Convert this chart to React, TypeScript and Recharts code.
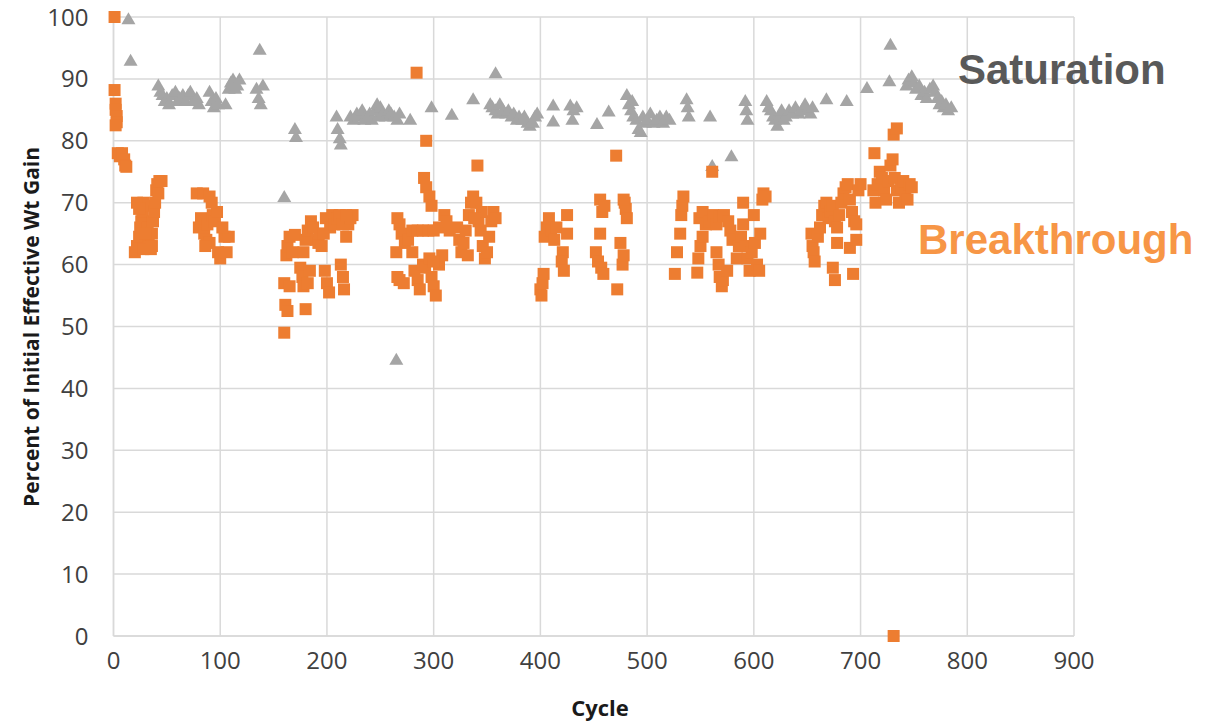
import React from "react";
import {
  ScatterChart,
  Scatter,
  XAxis,
  YAxis,
  CartesianGrid,
} from "recharts";

// [cycle, percent of initial effective wt gain]
const saturationPoints: [number, number][] = [
  [14, 99.7], [16, 93],
  [42, 89], [44, 88], [46, 87.5], [48, 86.5], [50, 87], [52, 86], [55, 87.5], [58, 88],
  [60, 86.5], [62, 87], [65, 87.5], [68, 86.5], [70, 87.5], [72, 88], [75, 86.5], [78, 87], [80, 86],
  [90, 88], [92, 86.5], [94, 85.5], [96, 87], [98, 86],
  [105, 86], [108, 88.5], [110, 89.5], [112, 90], [114, 88.5], [116, 89], [118, 90],
  [134, 88.5], [136, 87], [138, 86], [140, 89], [137, 94.8],
  [160, 71], [170, 82], [171, 80.7],
  [209, 84], [210, 82], [212, 80.5], [213, 79.5],
  [222, 84], [225, 83.5], [228, 84.5], [230, 84], [233, 85], [235, 83.5], [236, 84], [240, 84.5],
  [242, 83.5], [245, 85], [247, 86], [248, 84], [250, 85.5], [252, 84.5], [255, 84], [258, 85],
  [260, 84.5], [263, 84], [266, 83.5], [268, 84.5],
  [265, 44.7], [278, 83.5], [298, 85.5], [317, 84.3], [337, 86.8], [358, 91],
  [353, 86], [355, 85.5], [358, 85], [360, 84.5], [362, 86], [365, 85], [368, 84.5], [370, 85],
  [373, 84], [375, 84.5], [378, 83.5], [380, 84], [383, 83.5], [385, 84], [388, 83], [390, 82.5],
  [393, 83], [395, 84], [397, 84.5],
  [412, 85.8], [412, 83.2], [428, 85.8], [431, 85], [434, 85.5], [430, 83.5], [453, 82.8], [464, 84.8],
  [481, 87.5], [483, 86], [486, 86.5], [485, 85], [487, 84], [490, 83.5], [492, 82], [494, 81.5],
  [496, 84], [498, 83], [500, 83.5], [503, 84.5], [506, 83], [509, 83.5], [512, 84], [515, 83],
  [518, 84], [521, 83.5],
  [537, 86.8], [538, 85.5], [539, 84], [559, 84], [561, 76], [579, 77.6],
  [592, 86.5], [593, 85], [594, 83.5],
  [612, 86.5], [614, 85.5], [616, 85], [618, 84], [620, 83.5], [622, 82.5], [624, 84], [626, 85],
  [628, 83.5], [630, 84], [633, 85], [636, 84.5], [639, 85.5], [642, 84.5], [645, 85], [648, 86],
  [650, 85], [653, 84.5], [655, 85.5],
  [668, 86.8], [687, 86.5], [706, 88.6], [727, 89.7], [728, 95.6],
  [743, 89], [745, 90], [748, 90.5], [750, 89.5], [752, 88.5], [755, 89], [757, 87.5], [760, 88],
  [762, 87], [765, 88.5], [768, 89], [770, 88], [772, 87], [774, 86], [776, 86.5], [778, 85.5],
  [780, 86], [782, 85], [785, 85.5],
];

const breakthroughPoints: [number, number][] = [
  [1, 100], [1, 88.2], [2, 86], [2, 85], [3, 84], [3, 83], [2, 82.5],
  [4, 78], [6, 77.5], [8, 78], [10, 77], [11, 76], [12, 75.8],
  [20, 62], [22, 63], [24, 64.5], [25, 66], [26, 67], [27, 68.5], [28, 70], [30, 69.5], [22, 70],
  [24, 69], [32, 66], [33, 64], [34, 63], [35, 62.5], [36, 65], [37, 67], [38, 68.5], [39, 70],
  [40, 72], [41, 73], [43, 73.5], [45, 73.5], [42, 71.5], [30, 65], [28, 62.5], [36, 63],
  [78, 71.5], [84, 71.5], [90, 71], [92, 70], [80, 66], [82, 67.5], [85, 65], [87, 64], [88, 66.5],
  [93, 68], [95, 67], [97, 68.5], [90, 63.5], [98, 62], [100, 61], [104, 64.5], [106, 62],
  [108, 64.5], [102, 66], [86, 63],
  [160, 49], [161, 53.5], [163, 52.5], [160, 57], [165, 56.5], [162, 61.5], [163, 63], [165, 64.5],
  [168, 62], [170, 64.8], [175, 59.5], [177, 58], [178, 56.5], [180, 52.8], [182, 57], [184, 59],
  [178, 62], [180, 64], [182, 65.5], [185, 67], [187, 66], [190, 64], [192, 63.5], [193, 65],
  [195, 63], [197, 65], [198, 59], [200, 57], [202, 55.5], [199, 67.5], [203, 66], [205, 68],
  [207, 66.5], [210, 67.5], [212, 68], [215, 66.5], [213, 60], [215, 58], [216, 56], [218, 64.5],
  [220, 66.5], [222, 67.5], [224, 68], [218, 68],
  [284, 91], [293, 80], [291, 74], [293, 72.5], [296, 71], [298, 69.5],
  [266, 67.5], [268, 66.5], [270, 65], [273, 63.5], [276, 64], [280, 65.5], [285, 65.5], [290, 65.5],
  [295, 65.5], [300, 65.5], [305, 66], [310, 68], [312, 67], [315, 65.5],
  [265, 62], [266, 58], [268, 57.5], [272, 57], [280, 62], [282, 59], [285, 57.5], [287, 56],
  [290, 60], [292, 59.5], [296, 61], [298, 58], [300, 56.5], [302, 55], [305, 60], [308, 61.5], [300, 60.5],
  [341, 76], [322, 66], [324, 64], [326, 62], [328, 63.5], [330, 65.5], [333, 68], [335, 70],
  [337, 71], [340, 70], [342, 67], [344, 65.5], [346, 63], [348, 61], [350, 62], [352, 64.5],
  [354, 67], [356, 68.5], [358, 67.5], [345, 68.5], [338, 67.5], [332, 61.5],
  [400, 56], [401, 55], [402, 57], [403, 58.5], [404, 64.5], [406, 66], [408, 67.5], [410, 65.5],
  [413, 64], [415, 66], [425, 68], [425, 65], [421, 62], [420, 60.5], [422, 59],
  [456, 70.5], [458, 68.5], [460, 69.5], [456, 65], [452, 62], [454, 60.5], [457, 59.5], [459, 58.5],
  [471, 77.6], [472, 56], [475, 63.5], [477, 60], [478, 61.5], [479, 70], [480, 69], [481, 67.5], [478, 70.5],
  [526, 58.5], [528, 62], [531, 65], [532, 68], [533, 69.5], [534, 71], [547, 58.7], [548, 61],
  [550, 63], [552, 64.5], [549, 67.5], [552, 68.5], [555, 66.5], [558, 67], [561, 75], [562, 68],
  [565, 66.5], [568, 67.8], [572, 68], [576, 67], [578, 65.5], [580, 64], [565, 62], [567, 60],
  [568, 58], [570, 56.5], [571, 57.5], [575, 59], [584, 61], [586, 63], [588, 64.5], [590, 66.5],
  [590, 70], [592, 63], [594, 61], [596, 59], [598, 62], [600, 68], [601, 63.5], [603, 60],
  [605, 59], [606, 65], [608, 70.5], [609, 71.5], [611, 71],
  [654, 65], [655, 63], [656, 62], [657, 60.5], [660, 64.5], [662, 66], [664, 68], [666, 69.5],
  [668, 70], [670, 67.5], [672, 68.5], [674, 69.5], [676, 67], [678, 66], [680, 68], [682, 70],
  [684, 71.5], [686, 72.5], [688, 73], [690, 70.5], [692, 68.5], [694, 67], [696, 66.5], [698, 72],
  [700, 73], [674, 59.5], [676, 57.5], [678, 63.5], [690, 62.7], [693, 58.5], [696, 64],
  [713, 78], [712, 72], [714, 70], [716, 73], [718, 75], [720, 74], [722, 72], [724, 70.5],
  [726, 73.5], [728, 76], [730, 77], [731, 81], [734, 82], [732, 74], [734, 72], [736, 70],
  [738, 72.5], [740, 73.5], [742, 71.5], [744, 70.5], [746, 73], [748, 72.5],
  [731, 0],
];

const xTicks = [0, 100, 200, 300, 400, 500, 600, 700, 800, 900];
const yTicks = [0, 10, 20, 30, 40, 50, 60, 70, 80, 90, 100];

const ORANGE = "#ED7D31";
const GRAY = "#A5A5A5";
const GRID = "#D9D9D9";
const TEXT = "#404040";
const FONT = "'Open Sans', sans-serif";

const toRows = (pts: [number, number][]) => pts.map(([cycle, pct]) => ({ cycle, pct }));

function SquareMark(props: any) {
  const { cx, cy } = props;
  return <rect x={cx - 6} y={cy - 6} width={12} height={12} fill={ORANGE} />;
}

function TriangleMark(props: any) {
  const { cx, cy } = props;
  return (
    <polygon
      points={`${cx},${cy - 6.5} ${cx + 7},${cy + 5.5} ${cx - 7},${cy + 5.5}`}
      fill={GRAY}
    />
  );
}

export default function App() {
  return (
    <div
      style={{
        position: "absolute",
        left: 0,
        top: 0,
        width: 1218,
        height: 723,
        background: "#fff",
        fontFamily: FONT,
      }}
    >
      <ScatterChart
        width={1218}
        height={723}
        margin={{ top: 17, right: 144, bottom: 0, left: 0 }}
      >
        <CartesianGrid stroke={GRID} strokeWidth={1.5} />
        <XAxis
          type="number"
          dataKey="cycle"
          domain={[0, 900]}
          ticks={xTicks}
          height={87}
          tickLine={false}
          tickSize={0}
          tickMargin={16}
          axisLine={{ stroke: GRID, strokeWidth: 1.5 }}
          tick={{ fill: TEXT, fontSize: 24, fontFamily: FONT }}
        />
        <YAxis
          type="number"
          dataKey="pct"
          domain={[0, 100]}
          ticks={yTicks}
          width={113.5}
          tickLine={false}
          tickSize={0}
          tickMargin={25}
          axisLine={{ stroke: GRID, strokeWidth: 1.5 }}
          tick={{ fill: TEXT, fontSize: 24, fontFamily: FONT }}
        />
        <Scatter
          name="Saturation"
          data={toRows(saturationPoints)}
          shape={TriangleMark}
          isAnimationActive={false}
        />
        <Scatter
          name="Breakthrough"
          data={toRows(breakthroughPoints)}
          shape={SquareMark}
          isAnimationActive={false}
        />
      </ScatterChart>

      <div
        style={{
          position: "absolute",
          left: 31,
          top: 327,
          transform: "translate(-50%, -50%) rotate(-90deg)",
          whiteSpace: "nowrap",
          fontWeight: 700,
          fontSize: 21,
          color: "#1a1a1a",
        }}
      >
        Percent of Initial Effective Wt Gain
      </div>
      <div
        style={{
          position: "absolute",
          left: 600,
          top: 707,
          transform: "translate(-50%, -50%)",
          fontWeight: 700,
          fontSize: 22,
          color: "#1a1a1a",
        }}
      >
        Cycle
      </div>
      <div
        style={{
          position: "absolute",
          left: 958,
          top: 44,
          fontFamily: "'Liberation Sans', Arial, sans-serif",
          fontWeight: 700,
          fontSize: 42,
          lineHeight: "52px",
          color: "#595959",
        }}
      >
        Saturation
      </div>
      <div
        style={{
          position: "absolute",
          left: 918,
          top: 214,
          fontFamily: "'Liberation Sans', Arial, sans-serif",
          fontWeight: 700,
          fontSize: 42,
          lineHeight: "52px",
          color: "#F79646",
        }}
      >
        Breakthrough
      </div>
    </div>
  );
}
